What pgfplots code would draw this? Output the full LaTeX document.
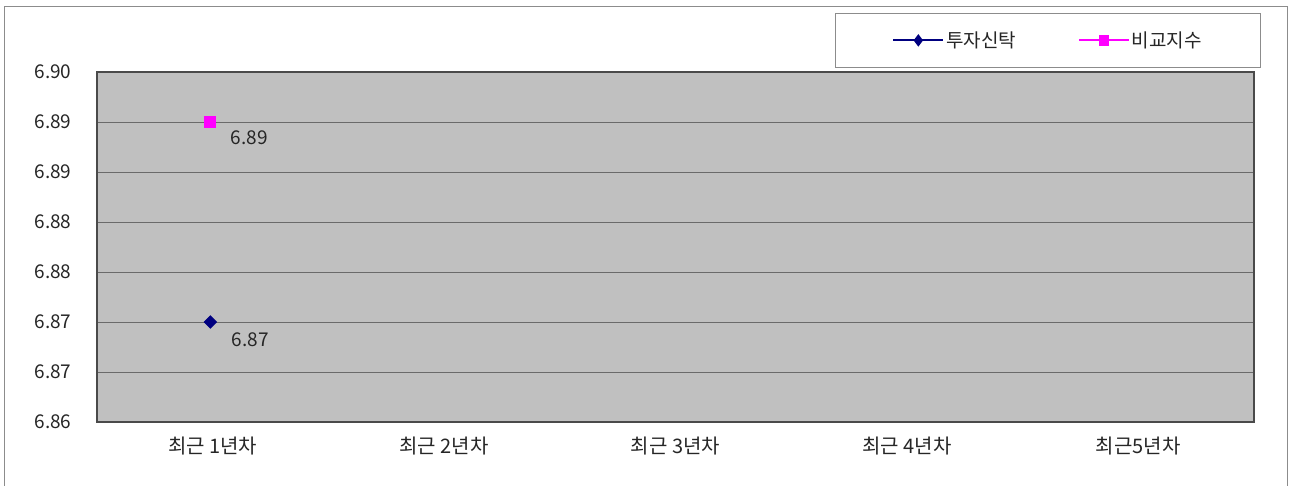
\documentclass[border=0pt]{standalone}
\usepackage{pgfplots}
\pgfplotsset{compat=1.18}
\usepackage{fontspec}
\setmainfont{Noto Sans CJK KR}
\definecolor{plotbg}{HTML}{C0C0C0}
\definecolor{gridc}{HTML}{6A6A6A}
\definecolor{axisc}{HTML}{4A4A4A}
\definecolor{frame}{HTML}{8C8C8C}
\definecolor{navy}{HTML}{000080}
\definecolor{mag}{HTML}{FF00FF}
\begin{document}
\begin{tikzpicture}[x=1pt,y=1pt]
\useasboundingbox (0,0) rectangle (1290,486);
\draw[frame,line width=1.5pt] (4.5,-5) -- (4.5,479.5) -- (1287.5,479.5) -- (1287.5,-5);
\begin{axis}[
  at={(97pt,64pt)}, anchor=south west,
  scale only axis, width=1157pt, height=350pt,
  xmin=0, xmax=5, ymin=6.86, ymax=6.895,
  axis background/.style={fill=plotbg},
  axis line style={axisc, line width=1.2pt},
  xtick={0.5,1.5,2.5,3.5,4.5},
  xticklabels={최근 1년차,최근 2년차,최근 3년차,최근 4년차,최근5년차},
  major x tick style={draw=none},
  extra x ticks={1,2,3,4},
  extra x tick labels={},
  extra x tick style={major tick length=6pt, tick align=inside, tick style={draw=axisc, line width=0.8pt}, grid=none},
  ytick={6.86,6.865,...,6.8951},
  yticklabels={6.86,6.87,6.87,6.88,6.88,6.89,6.89,6.90},
  major y tick style={draw=none},
  ymajorgrids, grid style={gridc, line width=0.9pt},
  tick label style={font=\fontsize{19}{21}\selectfont, text=black!85},
  xticklabel style={yshift=-11pt, font=\fontsize{20}{22}\selectfont},
  yticklabel style={xshift=-22pt},
  legend columns=2,
  legend style={at={(0.6378,1.0114)}, anchor=south west, draw=frame, line width=1pt,
    inner xsep=57pt, inner ysep=16.5pt, font=\fontsize{19}{21}\selectfont, text=black!85,
    /tikz/every even column/.append style={column sep=60pt}},
  legend image code/.code={\draw[#1, line width=1.8pt, mark repeat=2, mark phase=2, mark options={scale=0.8}] plot coordinates {(0pt,0pt) (25pt,0pt) (50pt,0pt)};},
  clip=false,
]
\addplot[navy, line width=1.2pt, mark=diamond*, mark size=6pt, mark options={fill=navy, draw=navy, xscale=1.33},
  nodes near coords, point meta=explicit symbolic,
  every node near coord/.append style={anchor=center, xshift=40pt, yshift=-18pt, font=\fontsize{19}{21}\selectfont, text=black!85}]
  coordinates {(0.49,6.870) [6.87]};
\addlegendentry{투자신탁}
\addplot[mag, line width=1.2pt, mark=square*, mark size=5.5pt, mark options={fill=mag, draw=mag},
  nodes near coords, point meta=explicit symbolic,
  every node near coord/.append style={anchor=center, xshift=39pt, yshift=-16pt, font=\fontsize{19}{21}\selectfont, text=black!85}]
  coordinates {(0.49,6.890) [6.89]};
\addlegendentry{비교지수}
\end{axis}
\end{tikzpicture}
\end{document}
